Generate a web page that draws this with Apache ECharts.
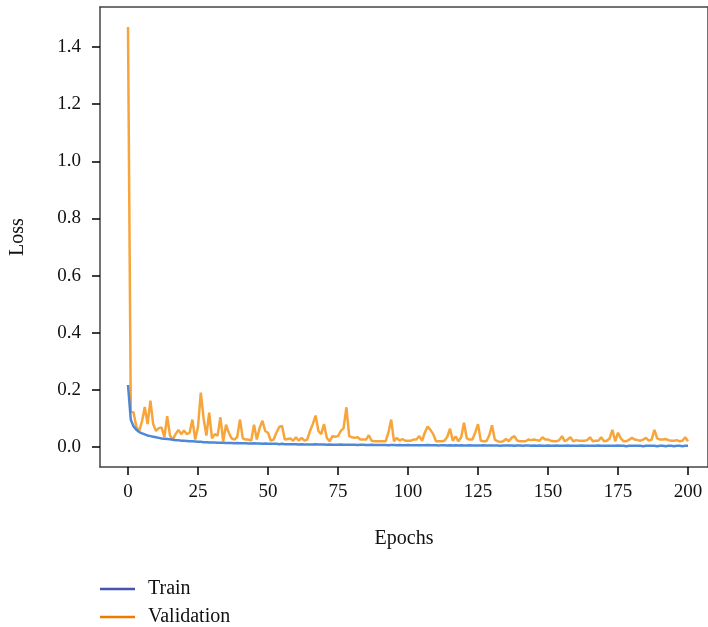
<!DOCTYPE html>
<html>
<head>
<meta charset="utf-8">
<script src="https://cdn.jsdelivr.net/npm/echarts@6/dist/echarts.min.js"></script>
<style>html,body{margin:0;padding:0;background:#fff}#c{width:708px;height:627px}</style>
</head>
<body>
<div id="c"></div>
<script>
const trainLoss = [
0.217,0.095,0.072,0.060,0.052,0.048,0.044,0.040,0.038,0.036,
0.034,0.032,0.030,0.029,0.028,0.027,0.025,0.024,0.024,0.022,
0.022,0.021,0.020,0.020,0.019,0.018,0.018,0.017,0.017,0.016,
0.016,0.016,0.015,0.015,0.015,0.014,0.014,0.014,0.013,0.014,
0.013,0.013,0.013,0.012,0.012,0.013,0.012,0.012,0.011,0.012,
0.011,0.011,0.011,0.011,0.010,0.011,0.010,0.010,0.010,0.010,
0.010,0.009,0.010,0.009,0.009,0.009,0.009,0.010,0.009,0.009,
0.009,0.008,0.009,0.008,0.008,0.008,0.009,0.008,0.008,0.008,
0.008,0.008,0.007,0.008,0.008,0.007,0.007,0.008,0.007,0.007,
0.007,0.007,0.007,0.006,0.007,0.007,0.006,0.007,0.006,0.006,
0.007,0.006,0.006,0.006,0.006,0.006,0.006,0.007,0.006,0.006,
0.006,0.005,0.006,0.006,0.005,0.006,0.005,0.006,0.005,0.006,
0.005,0.005,0.006,0.005,0.005,0.005,0.005,0.006,0.005,0.005,
0.005,0.005,0.005,0.004,0.005,0.005,0.005,0.005,0.004,0.005,
0.005,0.004,0.005,0.005,0.004,0.005,0.004,0.005,0.004,0.004,
0.005,0.004,0.004,0.005,0.004,0.004,0.004,0.005,0.004,0.004,
0.004,0.004,0.005,0.004,0.004,0.004,0.004,0.004,0.005,0.004,
0.004,0.004,0.004,0.004,0.004,0.005,0.004,0.004,0.003,0.004,
0.004,0.004,0.004,0.004,0.003,0.004,0.004,0.004,0.004,0.003,
0.004,0.004,0.003,0.004,0.004,0.003,0.004,0.004,0.003,0.004,
0.004
];
const valLoss = [
1.470,0.125,0.120,0.070,0.056,0.090,0.140,0.080,0.162,0.080,
0.056,0.066,0.068,0.035,0.108,0.040,0.026,0.045,0.060,0.045,
0.058,0.045,0.050,0.096,0.026,0.070,0.190,0.100,0.040,0.120,
0.030,0.045,0.040,0.104,0.020,0.078,0.050,0.030,0.026,0.035,
0.096,0.030,0.026,0.026,0.022,0.078,0.026,0.066,0.092,0.056,
0.050,0.022,0.026,0.050,0.070,0.074,0.026,0.028,0.030,0.022,
0.034,0.022,0.032,0.022,0.026,0.056,0.080,0.110,0.056,0.045,
0.080,0.032,0.020,0.038,0.036,0.038,0.056,0.066,0.139,0.038,
0.034,0.032,0.034,0.026,0.026,0.026,0.041,0.022,0.020,0.020,
0.020,0.020,0.020,0.050,0.096,0.020,0.032,0.022,0.028,0.022,
0.022,0.022,0.026,0.026,0.038,0.022,0.050,0.072,0.060,0.045,
0.020,0.020,0.020,0.022,0.035,0.064,0.022,0.037,0.020,0.034,
0.085,0.030,0.026,0.026,0.050,0.080,0.022,0.020,0.020,0.040,
0.076,0.026,0.020,0.018,0.020,0.028,0.020,0.032,0.038,0.022,
0.020,0.020,0.020,0.026,0.024,0.026,0.024,0.022,0.034,0.026,
0.026,0.022,0.020,0.020,0.024,0.038,0.020,0.026,0.034,0.020,
0.024,0.022,0.022,0.022,0.024,0.034,0.020,0.022,0.022,0.034,
0.020,0.022,0.030,0.060,0.020,0.050,0.030,0.020,0.020,0.026,
0.032,0.026,0.024,0.022,0.026,0.032,0.022,0.026,0.060,0.030,
0.026,0.026,0.028,0.024,0.022,0.022,0.024,0.020,0.022,0.034,
0.020
];
const epochs = valLoss.map((_, i) => i);
const xTicks = [0, 25, 50, 75, 100, 125, 150, 175, 200];
const yTicks = [0, 0.2, 0.4, 0.6, 0.8, 1.0, 1.2, 1.4];
const seriesNames = ['Train', 'Validation'];

const font = '"Liberation Serif", "DejaVu Serif", serif';
const X_MIN = -10, X_MAX = 207.14, Y_MIN = -0.07, Y_MAX = 1.54;
const frameLine = {show: true, onZero: false, lineStyle: {color: '#444', width: 1.5}};
const legendText = {fontFamily: font, fontSize: 20, color: '#111', padding: [0, 0, 0, 8]};

const chart = echarts.init(document.getElementById('c'), null, {renderer: 'canvas'});
chart.setOption({
  animation: false,
  backgroundColor: '#fff',
  grid: {left: 100, top: 7, right: 0, bottom: 160, containLabel: false},
  xAxis: [{
    type: 'value', min: X_MIN, max: X_MAX,
    name: 'Epochs', nameLocation: 'middle', nameGap: 62,
    nameTextStyle: {fontFamily: font, fontSize: 20, color: '#111'},
    axisLine: frameLine,
    axisTick: {show: true, inside: false, length: 8, customValues: xTicks, lineStyle: {color: '#000', width: 1.5}},
    axisLabel: {customValues: xTicks, margin: 16, fontFamily: font, fontSize: 19, color: '#111'},
    splitLine: {show: false}
  }, {
    type: 'value', min: X_MIN, max: X_MAX, position: 'top',
    axisLine: frameLine, axisTick: {show: false}, axisLabel: {show: false}, splitLine: {show: false}
  }],
  yAxis: [{
    type: 'value', min: Y_MIN, max: Y_MAX,
    name: 'Loss', nameLocation: 'middle', nameGap: 72, nameRotate: 90,
    nameTextStyle: {fontFamily: font, fontSize: 20, color: '#111'},
    axisLine: frameLine,
    axisTick: {show: true, inside: false, length: 8, customValues: yTicks, lineStyle: {color: '#000', width: 1.5}},
    axisLabel: {customValues: yTicks, margin: 19, fontFamily: font, fontSize: 19, color: '#111',
      formatter: v => v.toFixed(1)},
    splitLine: {show: false}
  }, {
    type: 'value', min: Y_MIN, max: Y_MAX, position: 'right',
    axisLine: frameLine, axisTick: {show: false}, axisLabel: {show: false}, splitLine: {show: false}
  }],
  legend: [{
    left: 100, top: 579, padding: 0, itemWidth: 35, itemHeight: 2.5, icon: 'rect',
    textStyle: legendText,
    data: [{name: seriesNames[0], itemStyle: {color: '#4355b0'}}]
  }, {
    left: 100, top: 607, padding: 0, itemWidth: 35, itemHeight: 2.5, icon: 'rect',
    textStyle: legendText,
    data: [{name: seriesNames[1], itemStyle: {color: '#f07a00'}}]
  }],
  series: [
    {
      name: seriesNames[0], type: 'line', showSymbol: false, symbol: 'none',
      data: epochs.map(i => [i, trainLoss[i]]),
      lineStyle: {color: '#3a7bd5', width: 2.5, opacity: 0.9},
      itemStyle: {color: '#4355b0'}, z: 3
    },
    {
      name: seriesNames[1], type: 'line', showSymbol: false, symbol: 'none',
      data: epochs.map(i => [i, valLoss[i]]),
      lineStyle: {color: '#f7a030', width: 2.5, opacity: 0.95},
      itemStyle: {color: '#f07a00'}, z: 2
    }
  ]
});
</script>
</body>
</html>
